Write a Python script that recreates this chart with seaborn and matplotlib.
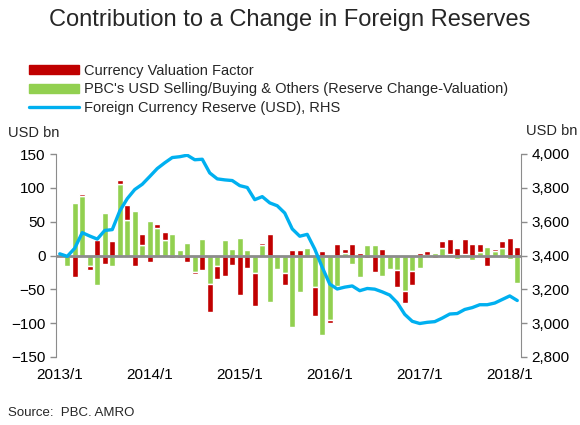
import matplotlib
matplotlib.use("Agg")
import matplotlib.pyplot as plt
from matplotlib.patches import Patch
from matplotlib.lines import Line2D
from matplotlib.ticker import FuncFormatter
import seaborn as sns
import numpy as np
import pandas as pd

# monthly, 2013/1 .. 2018/2
months = pd.date_range("2013-01-01", "2018-02-01", freq="MS")
month_labels = [f"{d.year}/{d.month}" for d in months]

# USD bn, monthly change split in two parts (left axis)
pbc_flow = [0, -16, 78, 88, -15, -43, 63, -16, 106, 52, 66, 16,
            51, 40, 23, 32, 8, 18, -24, 25, -42, -16, 23, 10,
            26, 8, -26, 15, -69, -20, -26, -106, -54, 11, -47, -117,
            -95, -45, 3, -12, -32, 16, 16, -30, -20, -21, -53, -23,
            -18, 1, 3, 11, 2, -5, 2, -7, 5, 13, 7, 11,
            -5, -41]
valuation = [0, 0, -32, 3, -6, 23, -12, 22, 5, 22, -15, 16,
             -9, 7, 12, -3, -3, -10, -4, -22, -41, -19, -30, -14,
             -58, -18, -48, 4, 32, 0, -17, 8, 8, -2, -42, 6,
             -5, 17, 7, 17, 3, -4, -24, 10, 0, -26, -17, -20,
             3, 6, -3, 10, 22, 11, 22, 17, 12, -15, 3, 10,
             26, 12]
# foreign currency reserve level, USD bn (right axis)
reserve = [3410, 3395, 3443, 3535, 3515, 3497, 3548, 3553, 3663, 3736, 3790, 3821,
           3867, 3914, 3948, 3979, 3984, 3993, 3966, 3969, 3888, 3853, 3847, 3843,
           3813, 3802, 3730, 3748, 3711, 3694, 3651, 3557, 3514, 3525, 3438, 3330,
           3231, 3202, 3213, 3220, 3192, 3205, 3201, 3185, 3166, 3121, 3052, 3011,
           2998, 3005, 3009, 3030, 3054, 3057, 3081, 3092, 3109, 3109, 3119, 3140,
           3161, 3134]

labels = ["Currency Valuation Factor",
          "PBC's USD Selling/Buying & Others (Reserve Change-Valuation)",
          "Foreign Currency Reserve (USD), RHS"]

RED = "#C00000"
GREEN = "#92D050"
BLUE = "#00B0F0"
GREY = "#8C8C8C"

sns.set_style("white")
plt.rcParams['font.family'] = ['Liberation Sans', 'DejaVu Sans']

df = pd.DataFrame({"month": month_labels, "flow": pbc_flow,
                   "val": valuation, "reserve": reserve})
df["x"] = np.arange(len(df))
# stack: same sign -> red sits on top of green, else from zero
same = np.sign(df["flow"]) == np.sign(df["val"])
df["val_bottom"] = np.where(same, df["flow"], 0)

fig = plt.figure(figsize=(5.8, 4.25), dpi=100)
ax = fig.add_axes([56 / 580, 1 - 357 / 425, (521 - 56) / 580, (357 - 154) / 425])

ax.bar(df["x"], df["flow"], width=0.86, color=GREEN, zorder=2)
ax.bar(df["x"], df["val"], bottom=df["val_bottom"], width=0.86, color=RED, zorder=2)
ax.axhline(0, color=GREY, lw=2, zorder=3)

ax.set_xlim(-0.5, len(df) - 0.5)
ax.set_ylim(-150, 150)
ax.set_yticks(np.arange(-150, 151, 50))
tick_pos = [i for i, m in enumerate(month_labels) if m.endswith("/1")]
ax.set_xticks(tick_pos)
ax.set_xticklabels([month_labels[i] for i in tick_pos])

ax2 = ax.twinx()
sns.lineplot(data=df, x="x", y="reserve", ax=ax2, color=BLUE, lw=2.4, legend=False)
ax2.set_ylim(2800, 4000)
ax2.set_yticks(np.arange(2800, 4001, 200))
ax2.yaxis.set_major_formatter(FuncFormatter(lambda v, p: f"{int(v):,}"))
ax2.set_xlabel("")
ax2.set_ylabel("")
ax.set_xlabel("")
ax.set_ylabel("")

for a in (ax, ax2):
    for s in a.spines.values():
        s.set_visible(False)
    a.tick_params(labelsize=11, colors="black", length=4, width=1, color=GREY)
    a.grid(False)
ax.spines["left"].set_visible(True)
ax.spines["left"].set_color(GREY)
ax2.spines["right"].set_visible(True)
ax2.spines["right"].set_color(GREY)
ax.tick_params(axis="x", length=0, pad=8)

fig.text(0.5, 1 - 20 / 425, "Contribution to a Change in Foreign Reserves",
         ha="center", va="center", fontsize=17)
fig.text(8 / 580, 1 - 133 / 425, "USD bn", ha="left", va="center", fontsize=10.5)
fig.text(577 / 580, 1 - 131 / 425, "USD bn", ha="right", va="center", fontsize=10.5)
fig.text(8 / 580, 1 - 413 / 425, "Source:  PBC. AMRO", ha="left", va="center", fontsize=9.5)

handles = [Patch(color=RED), Patch(color=GREEN), Line2D([], [], color=BLUE, lw=2.4)]
fig.legend(handles, labels, loc="upper left", bbox_to_anchor=(29 / 580, 1 - 64 / 425),
           frameon=False, fontsize=10.5, handlelength=3.4, handleheight=0.55,
           handletextpad=0.35, labelspacing=0.3, borderpad=0, borderaxespad=0)

fig.savefig("out.png", dpi=100)
